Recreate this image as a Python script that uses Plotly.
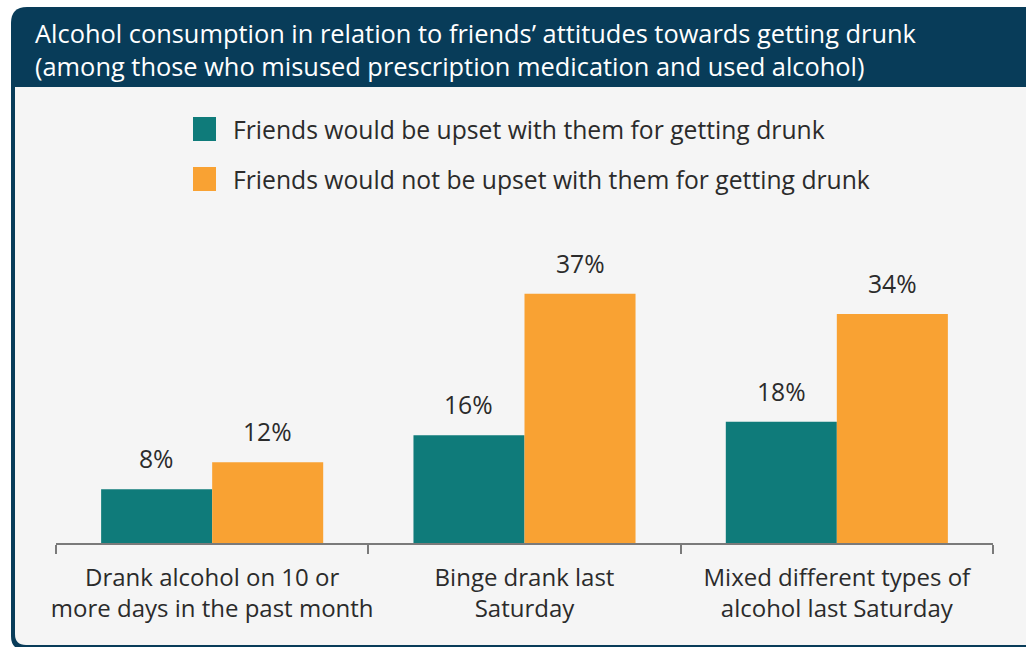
import plotly.graph_objects as go

# Survey results (%) by friends' attitude towards getting drunk
categories = [
    "Drank alcohol on 10 or<br>more days in the past month",
    "Binge drank last<br>Saturday",
    "Mixed different types of<br>alcohol last Saturday",
]
series_names = [
    "Friends would be upset with them for getting drunk",
    "Friends would not be upset with them for getting drunk",
]
upset_values = [8, 16, 18]
not_upset_values = [12, 37, 34]
title_lines = [
    "Alcohol consumption in relation to friends\u2019 attitudes towards getting drunk",
    "(among those who misused prescription medication and used alcohol)",
]

W, H = 1026, 647
TEAL = "#0f7b7a"
ORANGE = "#f9a233"
NAVY = "#083c59"
BODY = "#f5f5f5"
TEXT = "#2b2b2b"
FONT = "Open Sans"
FS = 24.7
FS_TICK = 24
FS_TITLE = 25.4

X0, X1 = 56, 993          # plot area, pixels from left
Y_AXIS, Y_TOP = 543, 240  # plot area, pixels from top
BARGAP = 0.289


def px(x):
    return x / W


def py(y):
    return 1 - y / H


fig = go.Figure()
for name, vals, col in [(series_names[0], upset_values, TEAL),
                        (series_names[1], not_upset_values, ORANGE)]:
    fig.add_trace(go.Bar(x=categories, y=vals, name=name, marker_color=col,
                         marker_line_width=0, showlegend=False,
                         hoverinfo="x+y"))

# value labels above each bar
cat_w = (X1 - X0) / len(categories)
half = cat_w * (1 - BARGAP) / 4
annotations = []
for vals, shift in [(upset_values, -half), (not_upset_values, half)]:
    for c, v in zip(categories, vals):
        annotations.append(dict(x=c, y=v, xref="x", yref="y", text=f"{v}%",
                                showarrow=False, xshift=shift, yshift=12,
                                yanchor="bottom",
                                font=dict(family=FONT, size=FS, color=TEXT)))

# title lines in the header band
for i, line in enumerate(title_lines):
    annotations.append(dict(x=px(33), y=py(33 + 33 * i), xref="paper", yref="paper",
                            text=line, showarrow=False, xanchor="left",
                            yanchor="middle",
                            font=dict(family=FONT, size=FS_TITLE, color="white")))

# legend: swatches + labels
shapes = []
for i, (name, col) in enumerate([(series_names[0], TEAL), (series_names[1], ORANGE)]):
    top = 117 + 50 * i
    shapes.append(dict(type="rect", xref="paper", yref="paper",
                       x0=px(193), x1=px(216), y0=py(top), y1=py(top + 24),
                       fillcolor=col, line_width=0, layer="above"))
    annotations.append(dict(x=px(231), y=py(top + 12), xref="paper", yref="paper",
                            text=name, showarrow=False, xanchor="left",
                            yanchor="middle",
                            font=dict(family=FONT, size=FS, color=TEXT)))


def rounded_path(x0, y0, x1, y1, r_tl=0, r_bl=0):
    """Rectangle path (pixel inputs) with optional rounded left corners."""
    p = f"M {px(x0 + r_tl)},{py(y0)} L {px(x1)},{py(y0)} L {px(x1)},{py(y1)} "
    p += f"L {px(x0 + r_bl)},{py(y1)} "
    if r_bl:
        p += f"Q {px(x0)},{py(y1)} {px(x0)},{py(y1 - r_bl)} "
    p += f"L {px(x0)},{py(y0 + r_tl)} "
    if r_tl:
        p += f"Q {px(x0)},{py(y0)} {px(x0 + r_tl)},{py(y0)} "
    return p + "Z"


shapes.insert(0, dict(type="path", xref="paper", yref="paper",
                      path=rounded_path(11, 7, 1040, 650, r_tl=16, r_bl=14),
                      fillcolor=NAVY, line_width=0, layer="below"))
shapes.insert(1, dict(type="path", xref="paper", yref="paper",
                      path=rounded_path(15, 87, 1040, 645, r_bl=11),
                      fillcolor=BODY, line_width=0, layer="below"))

fig.update_layout(
    template="none",
    width=W, height=H,
    margin=dict(l=0, r=0, t=0, b=0, autoexpand=False),
    paper_bgcolor="white",
    plot_bgcolor="rgba(0,0,0,0)",
    barmode="group", bargap=BARGAP, bargroupgap=0,
    showlegend=False,
    font=dict(family=FONT, size=FS, color=TEXT),
    xaxis=dict(domain=[px(X0), px(X1)], type="category", automargin=False,
               showline=True, linecolor="#7a7a7a", linewidth=2,
               ticks="outside", tickson="boundaries", ticklen=9,
               tickcolor="#7a7a7a", tickwidth=2, showgrid=False,
               tickangle=0, ticklabelstandoff=12,
               tickfont=dict(family=FONT, size=FS_TICK, color=TEXT)),
    yaxis=dict(domain=[py(Y_AXIS), py(Y_TOP)], range=[0, 45], visible=False,
               automargin=False, fixedrange=True),
    shapes=shapes,
    annotations=annotations,
)

fig.write_html("out.html")
